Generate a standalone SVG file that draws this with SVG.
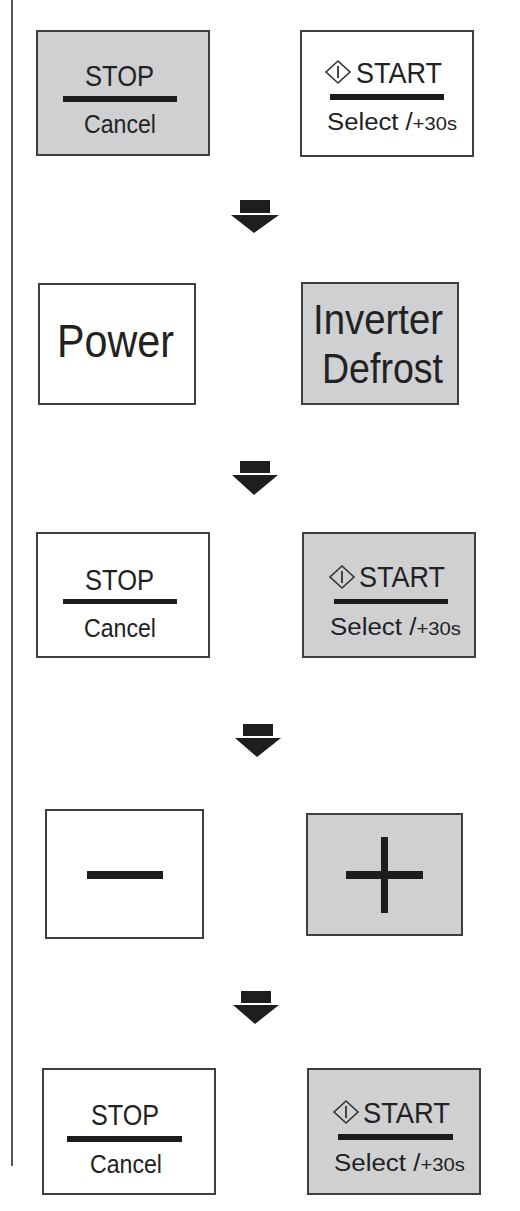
<svg xmlns="http://www.w3.org/2000/svg" width="520" height="1211" viewBox="0 0 520 1211">
<style>
.box{stroke:#3f3f3f;stroke-width:2}
.w{fill:#ffffff}
.g{fill:#cfd0d2}
.t{font-family:"Liberation Sans",Arial,sans-serif;fill:#222}
.bar{fill:#1c1c1c}
.dia{fill:none;stroke:#333;stroke-width:1.6}
.arrow{fill:#1e1e1e}
</style>
<defs>
<g id="diamond"><polygon class="dia" points="0,-11 12,0 0,11 -12,0"/><line x1="0" y1="-6" x2="0" y2="6" stroke="#333" stroke-width="1.8"/></g>
</defs>
<rect x="11" y="0" width="2" height="1166" fill="#555"/>
<g id="connectors">
<g class="arrow"><rect x="240" y="200" width="30" height="13"/><polygon points="231,215 279,215 254,233"/></g>
<g class="arrow"><rect x="240" y="461" width="30" height="12"/><polygon points="232,475 278,475 254,495"/></g>
<g class="arrow"><rect x="243" y="724" width="30" height="12"/><polygon points="235,738 281,738 257,757"/></g>
<g class="arrow"><rect x="241" y="991" width="30" height="12"/><polygon points="233,1005 279,1005 255,1024"/></g>
</g>
<g id="stop1">
<rect class="box g" x="37" y="31" width="172" height="124"/>
<text class="t" x="85" y="86" font-size="29" textLength="69" lengthAdjust="spacingAndGlyphs">STOP</text>
<rect class="bar" x="63" y="96" width="114" height="6"/>
<text class="t" x="84" y="133" font-size="25" textLength="72" lengthAdjust="spacingAndGlyphs">Cancel</text>
</g>
<g id="start1">
<rect class="box w" x="301" y="31" width="172" height="125"/>
<use href="#diamond" x="338" y="72"/>
<text class="t" x="356" y="83" font-size="30" textLength="86" lengthAdjust="spacingAndGlyphs">START</text>
<rect class="bar" x="330" y="94" width="114" height="6"/>
<text class="t" x="327" y="130" font-size="23" textLength="130" lengthAdjust="spacingAndGlyphs">Select /<tspan font-size="18">+30s</tspan></text>
</g>
<g id="power">
<rect class="box w" x="39" y="284" width="156" height="120"/>
<text class="t" x="57" y="357" font-size="46" textLength="117" lengthAdjust="spacingAndGlyphs">Power</text>
</g>
<g id="inverter">
<rect class="box g" x="302" y="283" width="156" height="121"/>
<text class="t" x="313" y="334" font-size="42" textLength="130" lengthAdjust="spacingAndGlyphs">Inverter</text>
<text class="t" x="322" y="383" font-size="42" textLength="121" lengthAdjust="spacingAndGlyphs">Defrost</text>
</g>
<g id="stop2">
<rect class="box w" x="37" y="533" width="172" height="124"/>
<text class="t" x="85" y="590" font-size="29" textLength="69" lengthAdjust="spacingAndGlyphs">STOP</text>
<rect class="bar" x="63" y="599" width="114" height="5"/>
<text class="t" x="84" y="637" font-size="25" textLength="72" lengthAdjust="spacingAndGlyphs">Cancel</text>
</g>
<g id="start2">
<rect class="box g" x="303" y="533" width="172" height="124"/>
<use href="#diamond" x="342" y="577"/>
<text class="t" x="359" y="587" font-size="30" textLength="86" lengthAdjust="spacingAndGlyphs">START</text>
<rect class="bar" x="334" y="599" width="114" height="5"/>
<text class="t" x="330" y="635" font-size="23" textLength="131" lengthAdjust="spacingAndGlyphs">Select /<tspan font-size="18">+30s</tspan></text>
</g>
<g id="minus">
<rect class="box w" x="46" y="810" width="157" height="128"/>
<rect class="bar" x="87" y="871" width="76" height="8"/>
</g>
<g id="plus">
<rect class="box g" x="307" y="814" width="155" height="121"/>
<rect class="bar" x="346" y="871" width="77" height="8"/>
<rect class="bar" x="381" y="837" width="7" height="76"/>
</g>
<g id="stop3">
<rect class="box w" x="43" y="1069" width="172" height="125"/>
<text class="t" x="91" y="1125" font-size="29" textLength="68" lengthAdjust="spacingAndGlyphs">STOP</text>
<rect class="bar" x="67" y="1136" width="115" height="6"/>
<text class="t" x="90" y="1173" font-size="25" textLength="72" lengthAdjust="spacingAndGlyphs">Cancel</text>
</g>
<g id="start3">
<rect class="box g" x="308" y="1069" width="172" height="125"/>
<use href="#diamond" x="346" y="1112"/>
<text class="t" x="363" y="1123" font-size="30" textLength="87" lengthAdjust="spacingAndGlyphs">START</text>
<rect class="bar" x="338" y="1134" width="115" height="6"/>
<text class="t" x="334" y="1171" font-size="23" textLength="131" lengthAdjust="spacingAndGlyphs">Select /<tspan font-size="18">+30s</tspan></text>
</g>
</svg>
